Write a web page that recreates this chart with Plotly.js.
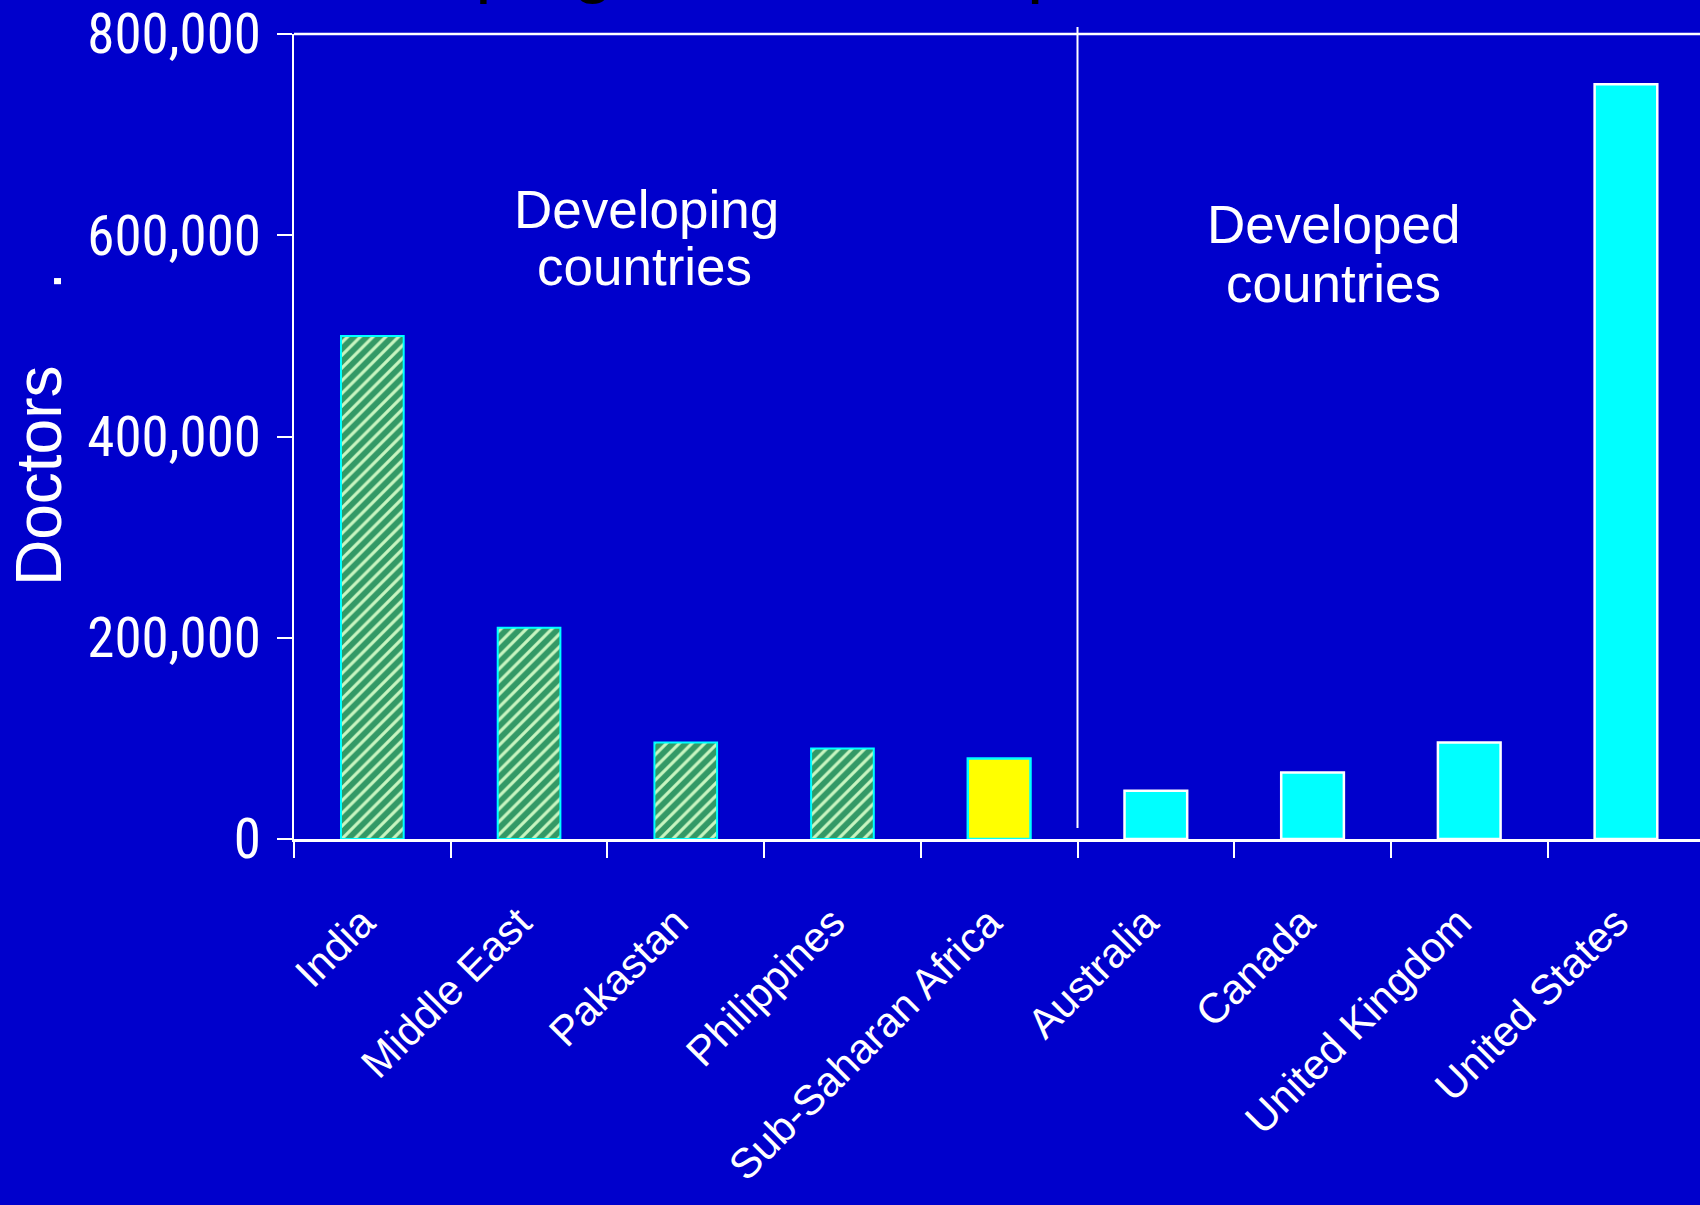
<!DOCTYPE html>
<html><head><meta charset="utf-8">
<script src="https://cdn.plot.ly/plotly-3.0.1.min.js"></script>
<style>html,body{margin:0;padding:0;background:#0000CC;overflow:hidden;}</style>
</head><body><div id="chart" style="width:1700px;height:1205px;"></div>
<script>
// ---- data ----
const categories = ['India','Middle East','Pakastan','Philippines','Sub-Saharan Africa','Australia','Canada','United Kingdom','United States'];
const developingCountries = ['India','Middle East','Pakastan','Philippines'];
const developingDoctors = [500000, 210000, 96000, 90000];
const highlightCountries = ['Sub-Saharan Africa'];
const highlightDoctors = [80000];
const developedCountries = ['Australia','Canada','United Kingdom','United States'];
const developedDoctors = [48000, 66000, 96000, 750000];
const yTickValues = [0, 200000, 400000, 600000, 800000];
const yTickLabels = ['0', '200,000', '400,000', '600,000', '800,000'];
const groupLabels = ['Developing', 'countries', 'Developed', 'countries'];
const axisTitle = 'Doctors';
const titleText = 'Developing countries export doctors';

// ---- layout geometry ----
const W = 1700, H = 1205, L = 294, T = 34, B = 366;
const plotW = W - L, plotH = H - T - B;
const catW = 156.7;
const px = x => (x - L) / plotW;
const py = y => (H - B - y) / plotH;
const BG = '#0000CC';
const sans = 'Arial, "Liberation Sans", Helvetica, sans-serif';
const narrow = '"Liberation Sans Narrow", "Arial Narrow", "Roboto Condensed", sans-serif';

const dividerX = categories.indexOf(developedCountries[0]) - 0.5;
const yMax = yTickValues[yTickValues.length - 1];

const traces = [
  {type: 'bar', x: developingCountries, y: developingDoctors, width: 0.4,
   marker: {color: '#339966', line: {color: '#00FFFF', width: 2},
            pattern: {shape: '/', bgcolor: '#339966', fgcolor: '#c8f5c0', size: 9, solidity: 0.35}},
   hoverinfo: 'x+y', showlegend: false},
  {type: 'bar', x: highlightCountries, y: highlightDoctors, width: 0.4,
   marker: {color: '#FFFF00', line: {color: '#00FFFF', width: 2.5}},
   hoverinfo: 'x+y', showlegend: false},
  {type: 'bar', x: developedCountries, y: developedDoctors, width: 0.4,
   marker: {color: '#00FFFF', line: {color: '#FFFFFF', width: 2.5}},
   hoverinfo: 'x+y', showlegend: false}
];

const ann = (text, x, y, size, opts) => Object.assign({
  text: text, xref: 'paper', yref: 'paper', x: px(x), y: py(y),
  xanchor: 'center', yanchor: 'middle', showarrow: false,
  font: {family: sans, size: size, color: '#FFFFFF'}
}, opts || {});

const annotations = [
  // title (mostly above the visible area)
  ann(titleText, 246, -37, 73, {xanchor: 'left', font: {family: sans, size: 73, color: '#000000'}}),
  ann(titleText, 243, -40, 73, {xanchor: 'left', font: {family: sans, size: 73, color: '#FFFF00'}}),
  ann(groupLabels[0], 646, 209.5, 53),
  ann(groupLabels[1], 644, 266, 53),
  ann(groupLabels[2], 1333, 224.5, 53),
  ann(groupLabels[3], 1333, 283, 53),
  ann(axisTitle, 39, 476, 64, {textangle: -90}),
  ann('.', 39, 281, 64, {textangle: -90})
];

const shapes = [
  {type: 'line', xref: 'paper', yref: 'paper', x0: 0, x1: 1, y0: 1, y1: 1,
   line: {color: '#FFFFFF', width: 2.5}},
  {type: 'line', xref: 'x', yref: 'paper', x0: dividerX, x1: dividerX,
   y0: 11000 / yMax, y1: py(27), line: {color: '#FFFFFF', width: 2}}
];

const layout = {
  width: W, height: H,
  paper_bgcolor: BG, plot_bgcolor: BG,
  margin: {l: L, r: 0, t: T, b: B, pad: 0},
  barmode: 'overlay',
  showlegend: false,
  xaxis: {
    type: 'category', categoryorder: 'array', categoryarray: categories,
    range: [-0.5, -0.5 + plotW / catW],
    showline: true, linecolor: '#FFFFFF', linewidth: 3,
    ticks: 'outside', tickson: 'boundaries', ticklen: 16, tickwidth: 2, tickcolor: '#FFFFFF',
    tickangle: -45, tickfont: {family: sans, size: 42, color: '#FFFFFF'},
    ticklabelstandoff: 39, ticklabelshift: -10,
    showgrid: false, zeroline: false, fixedrange: true
  },
  yaxis: {
    range: [0, yMax], tickmode: 'array', tickvals: yTickValues, ticktext: yTickLabels,
    showline: true, linecolor: '#FFFFFF', linewidth: 2,
    ticks: 'outside', ticklen: 15, tickwidth: 2, tickcolor: '#FFFFFF',
    tickfont: {family: narrow, size: 55, color: '#FFFFFF'},
    ticklabelstandoff: 5,
    showgrid: false, zeroline: false, fixedrange: true
  },
  annotations: annotations,
  shapes: shapes
};

Plotly.newPlot('chart', traces, layout, {displayModeBar: false, staticPlot: true});
</script>
</body></html>
